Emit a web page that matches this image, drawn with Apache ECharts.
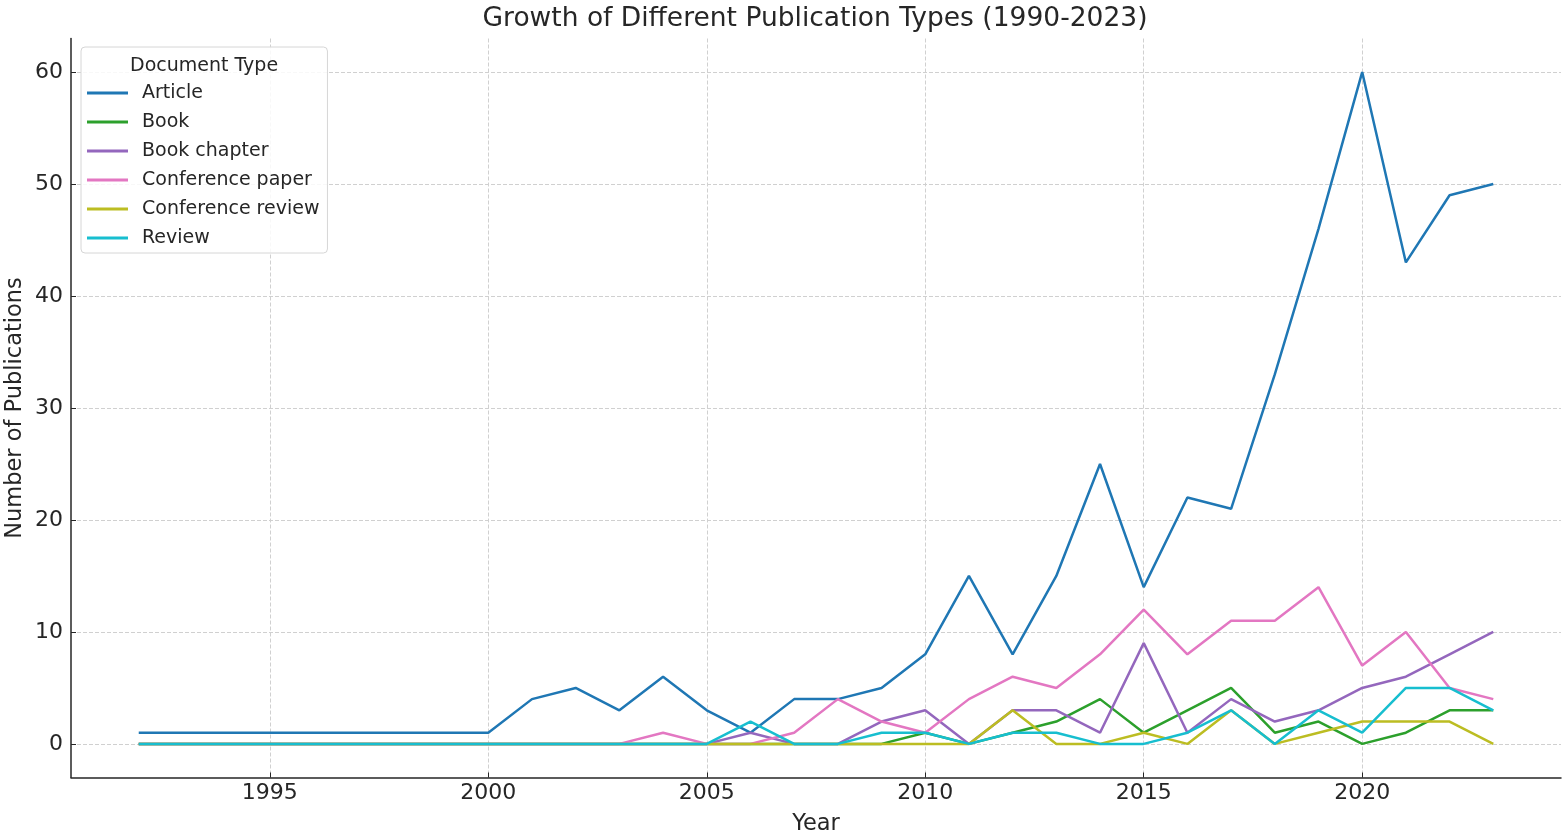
<!DOCTYPE html>
<html>
<head>
<meta charset="utf-8">
<script src="https://cdn.jsdelivr.net/npm/echarts@6/dist/echarts.min.js"></script>
<style>
  html, body { margin: 0; padding: 0; background: #fff; }
  #chart { width: 1562px; height: 838px; }
</style>
</head>
<body>
<div id="chart"></div>
<script>
// years on the x axis
var years = [];
for (var y = 1992; y <= 2023; y++) years.push(y);

// publications per year
var article = [1, 1, 1, 1, 1, 1, 1, 1, 1, 4, 5, 3, 6, 3, 1, 4, 4, 5, 8, 15, 8, 15, 25, 14, 22, 21, 33, 46, 60, 43, 49, 50];
var book = [0, 0, 0, 0, 0, 0, 0, 0, 0, 0, 0, 0, 0, 0, 0, 0, 0, 0, 1, 0, 1, 2, 4, 1, 3, 5, 1, 2, 0, 1, 3, 3];
var bookChapter = [0, 0, 0, 0, 0, 0, 0, 0, 0, 0, 0, 0, 0, 0, 1, 0, 0, 2, 3, 0, 3, 3, 1, 9, 1, 4, 2, 3, 5, 6, 8, 10];
var confPaper = [0, 0, 0, 0, 0, 0, 0, 0, 0, 0, 0, 0, 1, 0, 0, 1, 4, 2, 1, 4, 6, 5, 8, 12, 8, 11, 11, 14, 7, 10, 5, 4];
var confReview = [0, 0, 0, 0, 0, 0, 0, 0, 0, 0, 0, 0, 0, 0, 0, 0, 0, 0, 0, 0, 3, 0, 0, 1, 0, 3, 0, 1, 2, 2, 2, 0];
var review = [0, 0, 0, 0, 0, 0, 0, 0, 0, 0, 0, 0, 0, 0, 2, 0, 0, 1, 1, 0, 1, 1, 0, 0, 1, 3, 0, 3, 1, 5, 5, 3];

var seriesNames = ["Article", "Book", "Book chapter", "Conference paper", "Conference review", "Review"];
var seriesValues = [article, book, bookChapter, confPaper, confReview, review];
var colors = ["#1f77b4", "#2ca02c", "#9467bd", "#e377c2", "#bcbd22", "#17becf"];

var xTicks = [1995, 2000, 2005, 2010, 2015, 2020];
var yTicks = [0, 10, 20, 30, 40, 50, 60];

var font = "DejaVu Sans";
var textColor = "#262626";

var chart = echarts.init(document.getElementById("chart"));

var series = seriesNames.map(function (name, i) {
  return {
    name: name,
    type: "line",
    symbol: "none",
    lineStyle: { width: 2.5, color: colors[i] },
    itemStyle: { color: colors[i] },
    data: years.map(function (yr, k) { return [yr, seriesValues[i][k]]; })
  };
});

var gridLine = { show: true, lineStyle: { color: "#d0d0d0", width: 1, type: [4, 2] } };

var option = {
  animation: false,
  backgroundColor: "#fff",
  title: [
    {
      text: "Growth of Different Publication Types (1990-2023)",
      left: 810, top: 1, textAlign: "center",
      textStyle: { fontFamily: font, fontSize: 26.5, fontWeight: "normal", color: textColor }
    },
    {
      text: "Document Type",
      left: 125, top: 52,
      textStyle: { fontFamily: font, fontSize: 19, fontWeight: "normal", color: textColor }
    }
  ],
  // y axis title, placed by hand (the axis name gets pushed to the edge)
  graphic: [
    {
      type: "text",
      x: 15, y: 408,
      rotation: Math.PI / 2,
      style: {
        text: "Number of Publications",
        font: "22.5px 'DejaVu Sans'",
        fill: textColor,
        align: "center",
        verticalAlign: "middle"
      }
    }
  ],
  legend: {
    orient: "vertical",
    left: 81, top: 47,
    padding: [36, 8, 5, 6],
    itemWidth: 41, itemHeight: 3,
    itemGap: 9,
    icon: "rect",
    backgroundColor: "rgba(255,255,255,0.85)",
    borderColor: "#d6d6d6", borderWidth: 1, borderRadius: 4,
    textStyle: { fontFamily: font, fontSize: 19, color: textColor, lineHeight: 20, padding: [0, 0, 0, 9] },
    data: seriesNames
  },
  grid: { left: 71, right: 1, top: 38.5, bottom: 60.5, outerBoundsMode: "none", containLabel: false },
  xAxis: {
    type: "value",
    min: 1990.45, max: 2024.55,
    name: "Year", nameLocation: "middle", nameGap: 35,
    nameTextStyle: { fontFamily: font, fontSize: 22.5, color: textColor },
    axisLine: { show: true, onZero: false, lineStyle: { color: "#262626", width: 1.5 } },
    axisTick: { show: true, inside: true, length: 5, customValues: xTicks, lineStyle: { color: "#262626" } },
    axisLabel: {
      customValues: xTicks, margin: 5, fontFamily: font, fontSize: 22, color: textColor,
      formatter: function (v) { return String(v); }
    },
    splitLine: gridLine
  },
  yAxis: {
    type: "value",
    min: -3, max: 63,
    axisLine: { show: true, onZero: false, lineStyle: { color: "#262626", width: 1.5 } },
    axisTick: { show: true, inside: true, length: 5, customValues: yTicks, lineStyle: { color: "#262626" } },
    axisLabel: { customValues: yTicks, margin: 8, fontFamily: font, fontSize: 22, color: textColor },
    splitLine: gridLine
  },
  series: series
};

chart.setOption(option);
</script>
</body>
</html>
